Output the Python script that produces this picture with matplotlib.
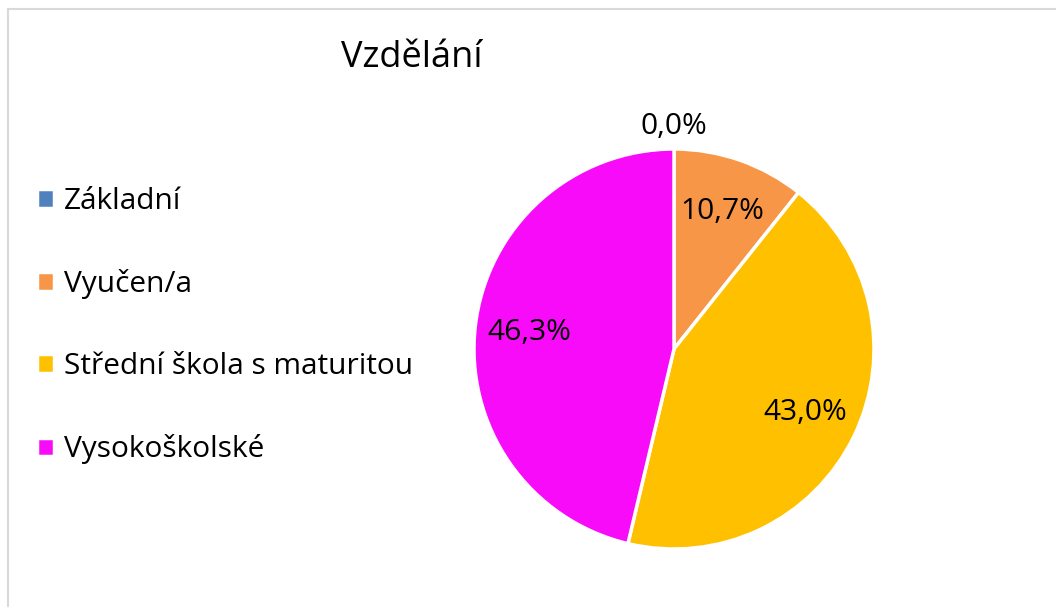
import matplotlib.pyplot as plt
from matplotlib.lines import Line2D

labels = ["Základní", "Vyučen/a", "Střední škola s maturitou", "Vysokoškolské"]
shares = [0.0, 10.7, 43.0, 46.3]
colors = ["#4F81BD", "#F79646", "#FFC000", "#F80BF8"]

plt.rcParams['font.family'] = ['Open Sans', 'DejaVu Sans']

fig = plt.figure(figsize=(10.56, 6.07), dpi=100)

# light frame like the office chart area (top and left edges visible)
fig.add_artist(Line2D([8/1056, 8/1056], [0, 1 - 9/607], color="#D9D9D9", lw=1.5))
fig.add_artist(Line2D([8/1056, 1], [1 - 9/607, 1 - 9/607], color="#D9D9D9", lw=1.5))

ax = fig.add_axes([474/1056, 58/607, 400/1056, 400/607])
wedges, texts, autotexts = ax.pie(
    shares, colors=colors, startangle=90, counterclock=False,
    autopct=lambda p: f"{p:.1f}%".replace(".", ","), pctdistance=0.73,
    wedgeprops=dict(edgecolor="white", linewidth=2.5),
    textprops=dict(fontsize=21.5, color="black"))
ax.set_xlim(-1, 1)
ax.set_ylim(-1, 1)

# zero slice gets its label outside the pie
for w, t, v in zip(wedges, autotexts, shares):
    if v == 0:
        t.set_position((0, 1.11))

fig.text(412/1056, 1 - 58/607, "Vzdělání", fontsize=26, ha="center", va="center")

fig.legend(wedges, labels, loc="upper left", bbox_to_anchor=(25/1056, 1 - 175/607),
           frameon=False, fontsize=21.5, handlelength=0.58, handleheight=0.58,
           handletextpad=0.32, labelspacing=1.78, borderaxespad=0)

fig.savefig("out.png", dpi=100)
